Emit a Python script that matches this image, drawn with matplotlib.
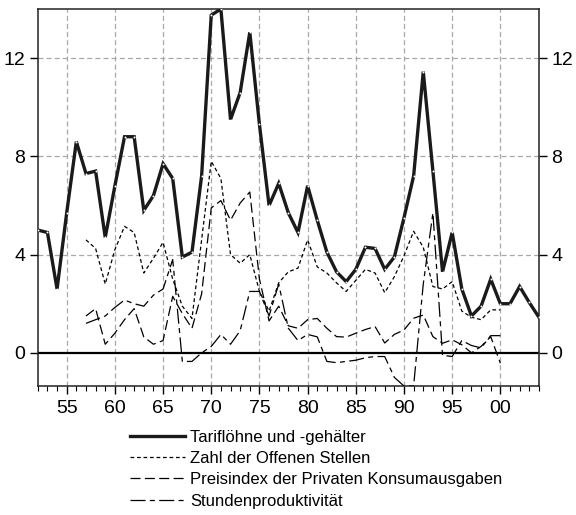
import matplotlib
matplotlib.use('Agg')
import matplotlib.pyplot as plt
from matplotlib.ticker import FixedLocator, MultipleLocator

plt.rcParams['font.family'] = ['Liberation Sans', 'DejaVu Sans']

years_tarif = list(range(1952, 2005))
tarif = [5.0, 4.9, 2.6, 5.7, 8.6, 7.3, 7.4, 4.7, 6.8, 8.8,
         8.8, 5.8, 6.4, 7.7, 7.1, 3.9, 4.1, 7.2, 13.75, 14.0,
         9.5, 10.6, 13.05, 9.3, 6.0, 6.9, 5.7, 4.9, 6.8, 5.4,
         4.1, 3.3, 2.9, 3.4, 4.3, 4.25, 3.4, 3.9, 5.5, 7.2,
         11.45, 7.4, 3.3, 4.9, 2.6, 1.5, 1.9, 3.0, 2.0, 2.0,
         2.7, 2.05, 1.45]

years_other = list(range(1957, 2001))
stellen = [4.6, 4.25, 2.8, 4.2, 5.15, 4.9, 3.25, 3.85, 4.5, 3.0,
           1.9, 1.4, 4.6, 7.8, 7.1, 4.0, 3.65, 4.0, 2.5, 1.7,
           2.85, 3.3, 3.45, 4.6, 3.5, 3.25, 2.85, 2.5, 2.95, 3.4,
           3.25, 2.45, 3.1, 3.95, 4.95, 4.3, 2.7, 2.6, 2.9, 1.7,
           1.45, 1.35, 1.75, 1.75]
preis = [1.5, 1.8, 0.35, 0.8, 1.35, 1.8, 0.65, 0.35, 0.5, 2.3,
         1.6, 1.0, 2.4, 5.9, 6.2, 5.4, 6.1, 6.55, 3.0, 1.3,
         1.9, 1.1, 1.0, 1.35, 1.4, 1.0, 0.66, 0.64, 0.8, 0.95,
         1.07, 0.4, 0.75, 0.93, 1.41, 1.54, 0.66, 0.39, 0.53, 0.33,
         0.0, 0.26, 0.66, -0.42]
stunden = [1.2, 1.35, 1.5, 1.85, 2.15, 2.0, 1.9, 2.35, 2.6, 3.8,
           -0.35, -0.35, 0.0, 0.26, 0.75, 0.35, 0.9, 2.5, 2.5, 1.5,
           2.8, 1.0, 0.5, 0.75, 0.65, -0.35, -0.4, -0.35, -0.3, -0.2,
           -0.15, -0.15, -1.0, -1.35, -1.35, 2.8, 5.7, -0.1, -0.15, 0.5,
           0.3, 0.2, 0.7, 0.7]

labels = ['Tariflöhne und -gehälter', 'Zahl der Offenen Stellen',
          'Preisindex der Privaten Konsumausgaben', 'Stundenproduktivität']
x_ticks = [1955, 1960, 1965, 1970, 1975, 1980, 1985, 1990, 1995, 2000]
x_ticklabels = ['55', '60', '65', '70', '75', '80', '85', '90', '95', '00']
y_ticks = [0, 4, 8, 12]

fig = plt.figure(figsize=(5.76, 5.15), dpi=100)
ax = fig.add_axes([0.0656, 0.2505, 0.870, 0.732])

grid_kw = dict(color='#a8a8a8', lw=0.9, dashes=(4, 2.5), zorder=1)
for xv in x_ticks:
    ax.axvline(xv, **grid_kw)
for yv in y_ticks[1:]:
    ax.axhline(yv, **grid_kw)
ax.axhline(0, color='black', lw=1.6, zorder=2)

ax.plot(years_tarif, tarif, color='#1a1a1a', lw=2.4, solid_joinstyle='miter',
        label=labels[0], zorder=5)
ax.plot(years_tarif, tarif, ls='none', marker='o', ms=1.4, mfc='white',
        mec='none', zorder=6)
ax.plot(years_other, stellen, color='black', lw=0.9, dashes=(3, 2.2),
        label=labels[1], zorder=4)
ax.plot(years_other, preis, color='black', lw=0.9, dashes=(8, 3.5),
        label=labels[2], zorder=4)
ax.plot(years_other, stunden, color='black', lw=0.9, dashes=(12, 3.5, 4, 3.5),
        label=labels[3], zorder=4)

ax.set_xlim(1952, 2004)
ax.set_ylim(-1.35, 14.0)

ax.xaxis.set_major_locator(FixedLocator(x_ticks))
ax.set_xticklabels(x_ticklabels)
ax.xaxis.set_minor_locator(MultipleLocator(1))
ax.set_yticks(y_ticks)
ax.tick_params(axis='both', which='major', direction='out', length=6, width=1,
               labelsize=14, color='black')
ax.tick_params(axis='x', which='minor', direction='out', length=3.5, width=0.8)
ax.tick_params(axis='y', which='both', left=True, right=True,
               labelleft=True, labelright=True, pad=3)
ax.tick_params(axis='x', pad=4)
for sp in ax.spines.values():
    sp.set_linewidth(1.1)
    sp.set_color('#222222')

handles, labs = ax.get_legend_handles_labels()
leg = fig.legend(handles, labs, loc='upper left', bbox_to_anchor=(0.226, 0.166),
                 frameon=False, handlelength=3.3, handletextpad=0.3,
                 labelspacing=0.38, borderaxespad=0, borderpad=0,
                 prop={'family': 'Liberation Sans', 'size': 12.0})

fig.savefig('out.png', dpi=100)
